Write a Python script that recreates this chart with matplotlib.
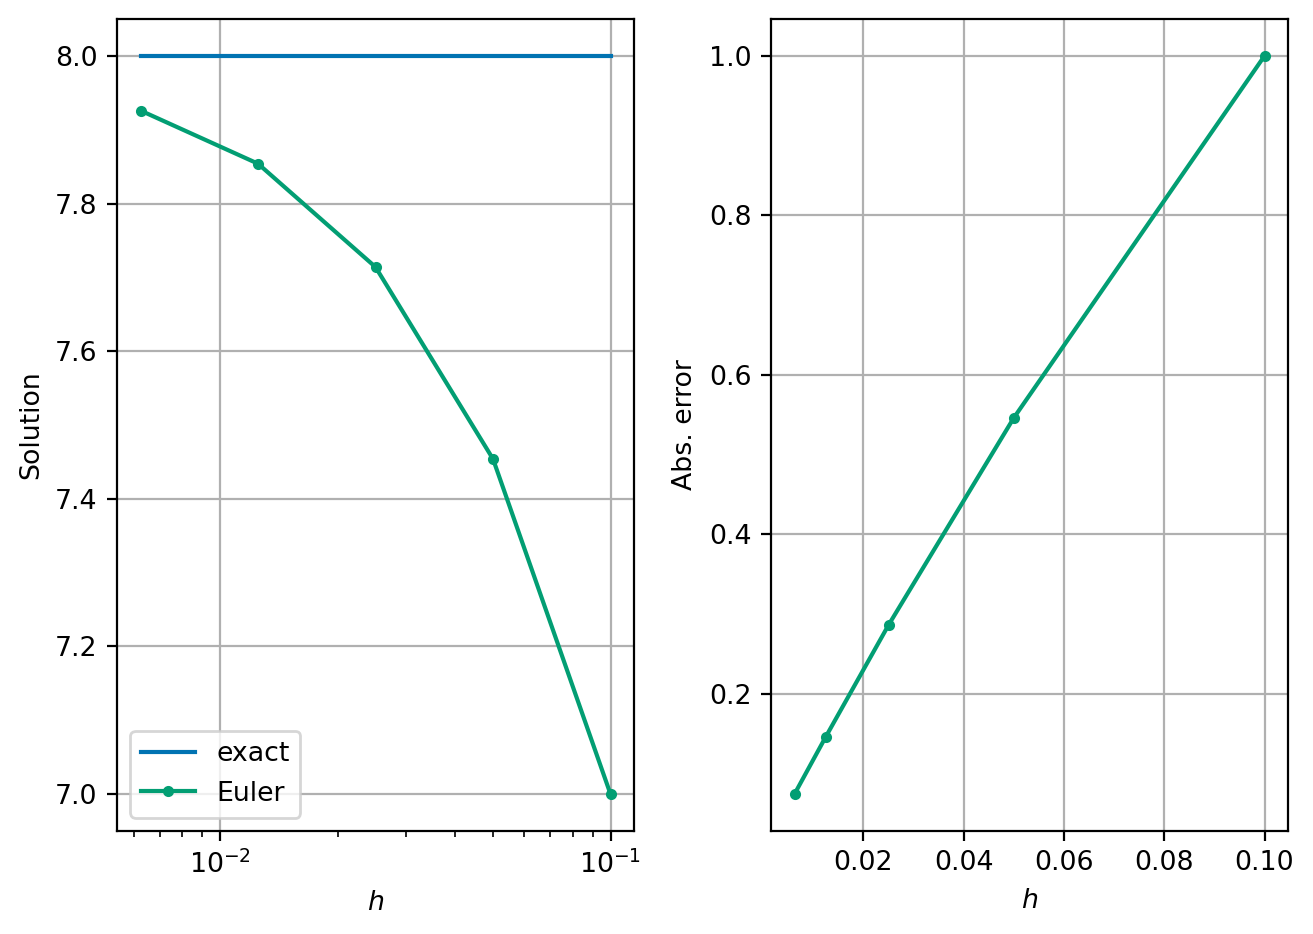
import matplotlib
matplotlib.use("Agg")
import matplotlib.pyplot as plt
from matplotlib.ticker import MultipleLocator

h = [0.1, 0.05, 0.025, 0.0125, 0.00625]
euler = [7.0, 7.454, 7.714, 7.854, 7.926]
exact = [8.0, 8.0, 8.0, 8.0, 8.0]
abs_err = [1.0, 0.546, 0.286, 0.146, 0.074]

blue = "#0173b2"
green = "#029e73"

plt.rcParams["font.size"] = 9.65

dpi = 200
fig, (ax1, ax2) = plt.subplots(1, 2, figsize=(1313 / dpi, 934 / dpi), dpi=dpi)
W, H = 1313.0, 934.0
ax1.set_position([117 / W, 1 - 831 / H, 517 / W, 812 / H])
ax2.set_position([771 / W, 1 - 831 / H, 517 / W, 812 / H])

ax1.semilogx(h, exact, color=blue, lw=1.5, label="exact")
ax1.semilogx(h, euler, color=green, marker=".", lw=1.5, label="Euler")
ax1.set_xlabel("$h$")
ax1.set_ylabel("Solution")
ax1.grid(True)
ax1.legend(loc="lower left")

ax2.plot(h, abs_err, color=green, marker=".", lw=1.5)
ax2.xaxis.set_major_locator(MultipleLocator(0.02))
ax2.set_xlabel("$h$")
ax2.set_ylabel("Abs. error")
ax2.grid(True)

fig.savefig("out.png", dpi=dpi)
